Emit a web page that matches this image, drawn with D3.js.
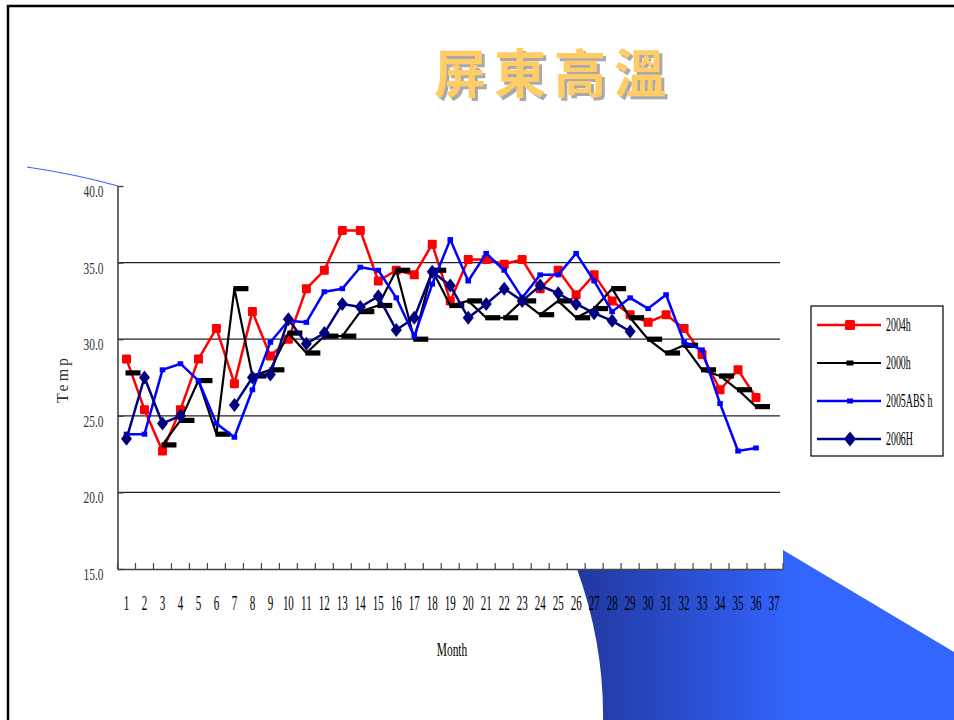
<!DOCTYPE html>
<html>
<head>
<meta charset="utf-8">
<script src="https://cdn.jsdelivr.net/npm/d3@7"></script>
<style>
  body { margin: 0; background: #fff; }
  svg { display: block; }
</style>
</head>
<body>
<svg id="chart" width="954" height="720"></svg>
<script>
// Category axis: months 1..37
const months = ["1","2","3","4","5","6","7","8","9","10","11","12","13","14","15","16","17","18","19",
                "20","21","22","23","24","25","26","27","28","29","30","31","32","33","34","35","36","37"];

// Temperature series (null = no reading)
const temp2004h = [28.7, 25.4, 22.7, 25.4, 28.7, 30.7, 27.1, 31.8, 28.9, 30.0, 33.3, 34.5, 37.1, 37.1, 33.8,
                   34.5, 34.2, 36.2, 32.5, 35.2, 35.2, 34.9, 35.2, 33.3, 34.5, 32.9, 34.2, 32.5, 31.6, 31.1,
                   31.6, 30.7, 29.0, 26.7, 28.0, 26.2, null];
const temp2000h = [27.8, null, 23.1, 24.7, 27.3, 23.8, 33.3, 27.6, 28.0, 30.4, 29.1, 30.2, 30.2, 31.8, 32.2,
                   34.5, 30.0, 34.5, 32.2, 32.5, 31.4, 31.4, 32.5, 31.6, 32.5, 31.4, 32.0, 33.3, 31.4, 30.0,
                   29.1, 29.6, 28.0, 27.6, 26.7, 25.6, null];
const temp2005ABSh = [23.8, 23.8, 28.0, 28.4, 27.3, 24.5, 23.6, 26.7, 29.8, 31.2, 31.1, 33.1, 33.3, 34.7, 34.5,
                      32.7, 30.2, 33.6, 36.5, 33.8, 35.6, 34.5, 32.7, 34.2, 34.2, 35.6, 33.8, 31.8, 32.7, 32.0,
                      32.9, 29.8, 29.3, 25.8, 22.7, 22.9, null];
const temp2006H = [23.5, 27.5, 24.5, 25.0, null, null, 25.7, 27.5, 27.7, 31.3, 29.7, 30.4, 32.3, 32.1, 32.8,
                   30.6, 31.4, 34.4, 33.5, 31.4, 32.3, 33.3, 32.5, 33.5, 33.0, 32.3, 31.7, 31.2, 30.5, null,
                   null, null, null, null, null, null, null];

const seriesNames = ["2004h", "2000h", "2005ABS h", "2006H"];
const yTickValues = [15, 20, 25, 30, 35, 40];
const gridValues = [20, 25, 30, 35];

const svg = d3.select("#chart");
const plot = { left: 117.5, right: 783, top: 186, bottom: 569 };

// ---- slide decoration ----
const defs = svg.append("defs");
const grad = defs.append("linearGradient")
  .attr("id", "slideBlue").attr("gradientUnits", "userSpaceOnUse")
  .attr("x1", 580).attr("y1", 0).attr("x2", 800).attr("y2", 0);
grad.append("stop").attr("offset", 0).attr("stop-color", "#2238a0");
grad.append("stop").attr("offset", 1).attr("stop-color", "#3366ff");

const shadow = defs.append("filter").attr("id", "titleShadow")
  .attr("x", "-10%").attr("y", "-20%").attr("width", "130%").attr("height", "150%");
shadow.append("feDropShadow").attr("dx", 3).attr("dy", 3).attr("stdDeviation", 0.6)
  .attr("flood-color", "#9a9a9a").attr("flood-opacity", 0.85);

svg.append("path")
  .attr("d", "M783,550 L954,652 L954,720 L603,720 Q604,644.5 577,569 Z")
  .attr("fill", "url(#slideBlue)");

svg.append("path")
  .attr("d", "M27,167 Q75,174 118,186")
  .attr("fill", "none").attr("stroke", "#3366ff").attr("stroke-width", 1.2);

svg.append("path")
  .attr("d", "M8,720 V6 H954")
  .attr("fill", "none").attr("stroke", "#000").attr("stroke-width", 2.5);

// ---- title ----
svg.append("text")
  .attr("x", 434).attr("y", 93)
  .attr("font-family", "'Noto Sans CJK TC', 'Noto Sans CJK SC', sans-serif")
  .attr("font-weight", 700).attr("font-size", 52).attr("letter-spacing", 8)
  .attr("fill", "#ffcc66").attr("filter", "url(#titleShadow)")
  .text("屏東高溫");

// ---- plot area ----
svg.append("rect")
  .attr("x", plot.left).attr("y", plot.top)
  .attr("width", plot.right - plot.left).attr("height", plot.bottom - plot.top)
  .attr("fill", "#fff");

const x = d3.scaleBand().domain(months).range([plot.left, plot.right]);
const y = d3.scaleLinear().domain([15, 40]).range([plot.bottom, plot.top]);
const cx = m => x(m) + x.bandwidth() / 2;

// gridlines
svg.append("g").selectAll("line").data(gridValues).join("line")
  .attr("x1", plot.left).attr("x2", plot.right - 3)
  .attr("y1", d => y(d)).attr("y2", d => y(d))
  .attr("stroke", "#222").attr("stroke-width", 1.2);

// y axis
const yAxisG = svg.append("g").attr("transform", `translate(${plot.left},0)`)
  .call(d3.axisLeft(y).tickValues(yTickValues).tickFormat(d3.format(".1f"))
        .tickSizeInner(-6).tickSizeOuter(0).tickPadding(14));
yAxisG.select(".domain").attr("stroke", "#444").attr("stroke-width", 1.6);
yAxisG.selectAll(".tick line").attr("stroke", "#444").attr("stroke-width", 1.4);
yAxisG.selectAll(".tick text")
  .attr("font-family", "'Liberation Serif', serif").attr("font-size", 17).attr("fill", "#333")
  .attr("x", 0).attr("dy", "0.62em")
  .attr("transform", "translate(-14,0) scale(0.67,1)");

// x axis: labels at category centres, ticks at category boundaries
const xAxisG = svg.append("g").attr("transform", `translate(0,${plot.bottom})`)
  .call(d3.axisBottom(x).tickSize(0).tickPadding(0));
xAxisG.select(".domain").attr("stroke", "#444").attr("stroke-width", 1.6);
xAxisG.selectAll(".tick text")
  .attr("font-family", "'Liberation Serif', serif").attr("font-size", 20).attr("fill", "#000")
  .attr("y", 0).attr("dy", 0)
  .attr("transform", "translate(0,41) scale(0.55,1)");
const boundaries = months.map(m => x(m)).concat([plot.right]);
xAxisG.append("g").selectAll("line").data(boundaries).join("line")
  .attr("x1", d => d).attr("x2", d => d).attr("y1", 0).attr("y2", -6)
  .attr("stroke", "#444").attr("stroke-width", 1.2);

// axis titles
svg.append("text")
  .attr("font-family", "'Liberation Serif', serif").attr("font-size", 19).attr("text-anchor", "middle")
  .attr("transform", "translate(452,656) scale(0.6,1)").text("Month");
svg.append("text")
  .attr("font-family", "'Liberation Serif', serif").attr("font-size", 16).attr("text-anchor", "middle")
  .attr("letter-spacing", 3).attr("fill", "#333")
  .attr("transform", "translate(68,379) rotate(-90)").text("Temp");

// ---- series ----
const markerFns = {
  square: (g, s) => g.append("rect").attr("x", -4.5).attr("y", -4.5).attr("width", 9).attr("height", 9)
                     .attr("rx", 1.2).attr("fill", s.color),
  dash: (g, s) => g.append("rect").attr("x", -1).attr("y", -2.6).attr("width", 15).attr("height", 5.2)
                   .attr("fill", s.color),
  small: (g, s) => g.append("rect").attr("x", -2.8).attr("y", -2.5).attr("width", 5.6).attr("height", 5)
                    .attr("fill", s.color),
  diamond: (g, s) => g.append("path").attr("d", "M0,-7 L5.5,0 L0,7 L-5.5,0 Z").attr("fill", s.color)
};

const series = [
  { name: seriesNames[0], values: temp2004h, color: "#ff0000", width: 2.5, marker: "square" },
  { name: seriesNames[1], values: temp2000h, color: "#000000", width: 2.2, marker: "dash" },
  { name: seriesNames[2], values: temp2005ABSh, color: "#0000ff", width: 2.5, marker: "small" },
  { name: seriesNames[3], values: temp2006H, color: "#000080", width: 2.5, marker: "diamond" }
];

const line = d3.line()
  .defined(d => d.v != null)
  .x(d => cx(d.m)).y(d => y(d.v));

series.forEach(s => {
  const pts = s.values.map((v, i) => ({ m: months[i], v }));
  const g = svg.append("g");
  g.append("path").datum(pts).attr("d", line)
    .attr("fill", "none").attr("stroke", s.color).attr("stroke-width", s.width)
    .attr("stroke-linejoin", "round");
  g.selectAll("g.pt").data(pts.filter(p => p.v != null)).join("g")
    .attr("class", "pt")
    .attr("transform", p => `translate(${cx(p.m)},${y(p.v)})`)
    .each(function () { markerFns[s.marker](d3.select(this), s); });
});

// ---- legend ----
const legend = svg.append("g");
legend.append("rect").attr("x", 811).attr("y", 306).attr("width", 132).attr("height", 150)
  .attr("fill", "#fff").attr("stroke", "#000").attr("stroke-width", 1.2);
const legendMarkers = {
  square: (g, s) => g.append("rect").attr("x", -5).attr("y", -5).attr("width", 10).attr("height", 10)
                     .attr("rx", 1.5).attr("fill", s.color),
  dash: (g, s) => g.append("rect").attr("x", -3.5).attr("y", -2.5).attr("width", 7).attr("height", 5)
                   .attr("fill", s.color),
  small: (g, s) => g.append("rect").attr("x", -3).attr("y", -2.5).attr("width", 6).attr("height", 5)
                    .attr("fill", s.color),
  diamond: (g, s) => g.append("path").attr("d", "M0,-7.5 L6,0 L0,7.5 L-6,0 Z").attr("fill", s.color)
};
const rowY = d3.scalePoint().domain(seriesNames).range([325, 439]);
series.forEach(s => {
  const r = legend.append("g").attr("transform", `translate(0,${rowY(s.name)})`);
  r.append("line").attr("x1", 817).attr("x2", 881).attr("y1", 0).attr("y2", 0)
    .attr("stroke", s.color).attr("stroke-width", s.width);
  legendMarkers[s.marker](r.append("g").attr("transform", "translate(850,0)"), s);
  r.append("text").attr("font-family", "'Liberation Serif', serif").attr("font-size", 18)
    .attr("transform", "translate(886,6) scale(0.55,1)").text(s.name);
});
</script>
</body>
</html>
